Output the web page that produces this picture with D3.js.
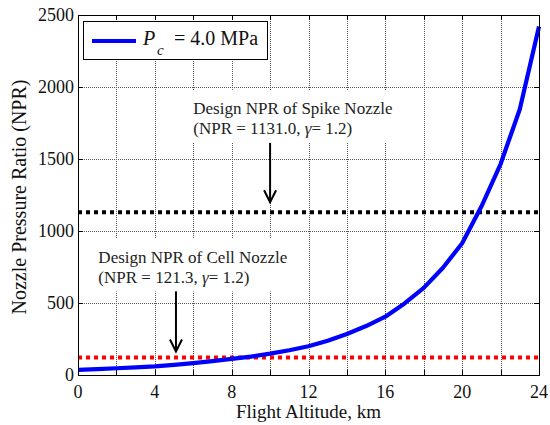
<!DOCTYPE html>
<html>
<head>
<meta charset="utf-8">
<script src="https://cdn.jsdelivr.net/npm/d3@7"></script>
<style>
  html, body { margin: 0; padding: 0; background: #fff; }
  svg { display: block; font-family: "Liberation Serif", "Times New Roman", serif; }
</style>
</head>
<body>
<svg id="chart" width="550" height="425"></svg>
<script>
// Flight altitude (km) and nozzle pressure ratio for Pc = 4.0 MPa
const altitudeKm = [0, 1, 2, 3, 4, 5, 6, 7, 8, 9, 10, 11, 12, 13, 14, 15, 16, 17, 18, 19, 20, 21, 22, 23, 24];
const npr = [36, 41, 47, 53, 60, 70, 82, 96, 112, 128, 148, 172, 200, 238, 285, 340, 405, 497, 605, 745, 915, 1170, 1465, 1845, 2420];

// Design pressure ratios of the two nozzles
const designLabels = ["Spike Nozzle", "Cell Nozzle"];
const designNPR = [1131.0, 121.3];
const designGamma = [1.2, 1.2];

// Axis ticks
const xTicks = [0, 4, 8, 12, 16, 20, 24];
const xGridTicks = [0, 2, 4, 6, 8, 10, 12, 14, 16, 18, 20, 22, 24];
const yTicks = [0, 500, 1000, 1500, 2000, 2500];

const svg = d3.select("#chart");
const plotLeft = 78, plotRight = 539, plotTop = 15, plotBottom = 375;

const x = d3.scaleLinear().domain([0, 24]).range([plotLeft, plotRight]);
const y = d3.scaleLinear().domain([0, 2500]).range([plotBottom, plotTop]);

const snap = v => Math.round(v) + 0.5;

// Grid
const grid = svg.append("g").attr("class", "grid");
grid.selectAll("line.gx").data(xGridTicks.slice(1, -1)).join("line")
  .attr("x1", d => snap(x(d))).attr("x2", d => snap(x(d)))
  .attr("y1", plotTop).attr("y2", plotBottom)
  .attr("stroke", "#555").attr("stroke-width", 1).attr("stroke-dasharray", "1,1");
grid.selectAll("line.gy").data(yTicks.slice(1, -1)).join("line")
  .attr("x1", plotLeft).attr("x2", plotRight)
  .attr("y1", d => snap(y(d))).attr("y2", d => snap(y(d)))
  .attr("stroke", "#555").attr("stroke-width", 1).attr("stroke-dasharray", "1,1");

// Annotation text blocks (white background hides the grid behind them)
const notes = [
  { lines: ["Design NPR of " + designLabels[0], designNPR[0].toFixed(1), designGamma[0]], at: [6.0, 1813], arrowX: 10, tail: 1612, tip: 1200 },
  { lines: ["Design NPR of " + designLabels[1], designNPR[1].toFixed(1), designGamma[1]], at: [1.06, 778], arrowX: 5.1, tail: 581, tip: 163 }
];

const noteLayer = svg.append("g");
notes.forEach(n => {
  const g = noteLayer.append("g");
  const rect = g.append("rect").attr("fill", "#fff");
  const t = g.append("text")
    .attr("x", x(n.at[0])).attr("y", y(n.at[1]))
    .attr("font-size", 17).attr("fill", "#222");
  t.append("tspan").attr("x", x(n.at[0])).text(n.lines[0]);
  const l2 = t.append("tspan").attr("x", x(n.at[0])).attr("dy", 20.5);
  l2.append("tspan").text("(NPR = " + n.lines[1] + ", ");
  l2.append("tspan").attr("font-style", "italic").text("γ");
  l2.append("tspan").text("= " + n.lines[2].toFixed(1) + ")");
  const bb = t.node().getBBox();
  rect.attr("x", bb.x - 6).attr("y", bb.y - 9).attr("width", bb.width + 12).attr("height", bb.height + 13);
});

// Design NPR dotted lines
const designColors = ["#000", "#ff0000"];
svg.append("g").selectAll("line").data(designNPR).join("line")
  .attr("x1", plotLeft).attr("x2", plotRight)
  .attr("y1", d => y(d)).attr("y2", d => y(d))
  .attr("stroke", (d, i) => designColors[i])
  .attr("stroke-width", 4).attr("stroke-dasharray", "4,4");

// NPR curve
const line = d3.line().x((d, i) => x(altitudeKm[i])).y(d => y(d));
svg.append("path").datum(npr)
  .attr("d", line)
  .attr("fill", "none").attr("stroke", "#0000ff").attr("stroke-width", 4.2)
  .attr("stroke-linejoin", "round");

// Arrows
notes.forEach(n => {
  const ax = x(n.arrowX), y0 = y(n.tail), y1 = y(n.tip);
  svg.append("line").attr("x1", ax).attr("x2", ax).attr("y1", y0).attr("y2", y1 - 1)
    .attr("stroke", "#000").attr("stroke-width", 2);
  svg.append("path")
    .attr("d", `M${ax - 6},${y1 - 12}L${ax},${y1}L${ax + 6},${y1 - 12}`)
    .attr("fill", "none").attr("stroke", "#000").attr("stroke-width", 2);
});

// Axes box and inward ticks
const axes = svg.append("g");
axes.append("rect").attr("x", plotLeft + 0.5).attr("y", plotTop + 0.5)
  .attr("width", plotRight - plotLeft).attr("height", plotBottom - plotTop)
  .attr("fill", "none").attr("stroke", "#000").attr("stroke-width", 1);

const tickLen = 5;
xGridTicks.forEach(d => {
  const px = snap(x(d));
  axes.append("line").attr("x1", px).attr("x2", px).attr("y1", plotBottom).attr("y2", plotBottom - tickLen).attr("stroke", "#000");
  axes.append("line").attr("x1", px).attr("x2", px).attr("y1", plotTop).attr("y2", plotTop + tickLen).attr("stroke", "#000");
});
yTicks.forEach(d => {
  const py = snap(y(d));
  axes.append("line").attr("x1", plotLeft).attr("x2", plotLeft + tickLen).attr("y1", py).attr("y2", py).attr("stroke", "#000");
  axes.append("line").attr("x1", plotRight).attr("x2", plotRight - tickLen).attr("y1", py).attr("y2", py).attr("stroke", "#000");
});

// Tick labels
axes.selectAll("text.xt").data(xTicks).join("text")
  .attr("x", d => x(d)).attr("y", 398)
  .attr("text-anchor", "middle").attr("font-size", 18).attr("fill", "#111")
  .text(d => d);
axes.selectAll("text.yt").data(yTicks).join("text")
  .attr("x", 74).attr("y", d => y(d) + 6)
  .attr("text-anchor", "end").attr("font-size", 18).attr("fill", "#111")
  .text(d => d);

// Axis titles
svg.append("text").attr("x", (plotLeft + plotRight) / 2).attr("y", 418)
  .attr("text-anchor", "middle").attr("font-size", 19).attr("fill", "#111")
  .text("Flight Altitude, km");
svg.append("text").attr("transform", "translate(26,197) rotate(-90)")
  .attr("text-anchor", "middle").attr("font-size", 20).attr("fill", "#111")
  .text("Nozzle Pressure Ratio (NPR)");

// Legend
const lg = svg.append("g");
lg.append("rect").attr("x", 83.5).attr("y", 21.5).attr("width", 184).attr("height", 38)
  .attr("fill", "#fff").attr("stroke", "#000").attr("stroke-width", 1);
lg.append("line").attr("x1", 92).attr("x2", 136).attr("y1", 41).attr("y2", 41)
  .attr("stroke", "#0000ff").attr("stroke-width", 4.2);
lg.append("text").attr("x", 143).attr("y", 45).attr("font-size", 20).attr("font-style", "italic").attr("fill", "#111").text("P");
lg.append("text").attr("x", 157).attr("y", 55).attr("font-size", 15).attr("font-style", "italic").attr("fill", "#111").text("c");
lg.append("text").attr("x", 174).attr("y", 45).attr("font-size", 20).attr("fill", "#111").text("= 4.0 MPa");
</script>
</body>
</html>
